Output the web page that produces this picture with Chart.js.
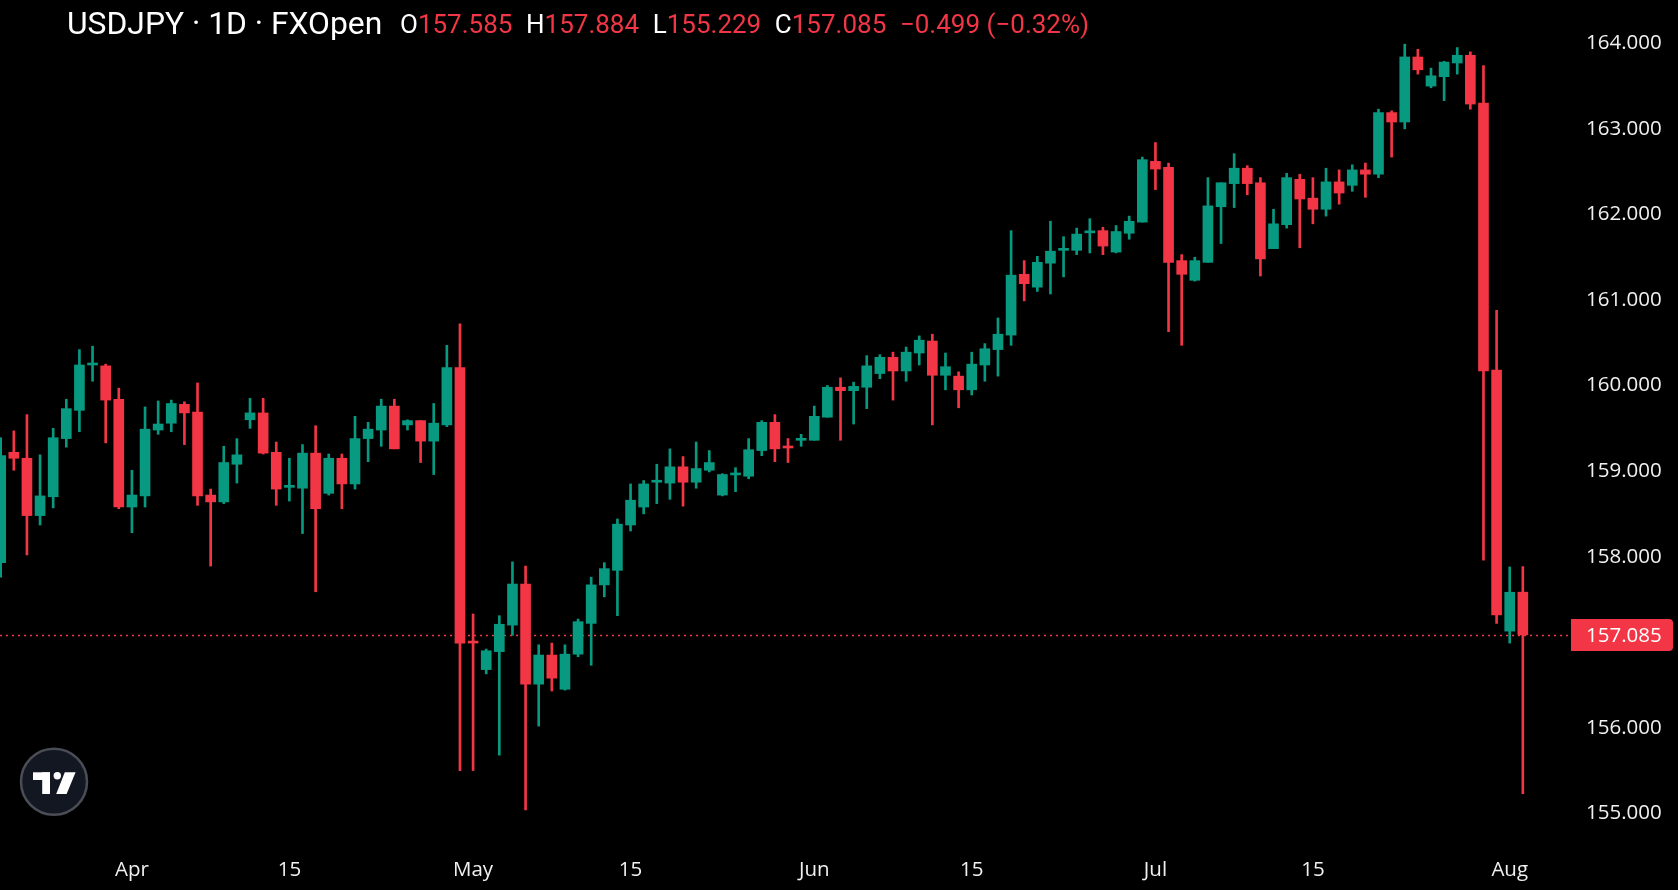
<!DOCTYPE html>
<html>
<head>
<meta charset="utf-8">
<script src="https://cdn.jsdelivr.net/npm/chart.js@4.4.1/dist/chart.umd.min.js"></script>
<style>
html,body{margin:0;padding:0;background:#000;overflow:hidden;}
#wrap{width:1678px;height:890px;position:relative;}
</style>
</head>
<body>
<div id="wrap"><canvas id="c" width="1678" height="890"></canvas></div>
<script>
// ---- data (daily candles, left to right) ----
const opens  = [157.93,159.22,159.15,158.48,158.70,159.38,159.71,160.24,160.23,159.84,
                158.58,158.71,159.48,159.56,159.78,159.69,158.72,158.64,159.08,159.60,
                159.68,159.22,158.81,158.80,159.21,158.74,159.15,158.85,159.38,159.48,
                159.76,159.54,159.59,159.35,159.54,160.21,157.00,156.68,156.89,157.20,
                157.68,156.51,156.85,156.45,156.86,157.22,157.67,157.84,158.37,158.58,
                158.87,158.86,159.05,158.87,159.01,158.72,158.955,158.94,159.24,159.57,
                159.28,159.36,159.36,159.63,159.98,159.94,159.98,160.14,160.33,160.17,
                160.38,160.52,160.12,160.11,159.95,160.24,160.42,160.59,161.30,161.15,
                161.43,161.58,161.58,161.785,161.81,161.56,161.78,161.91,162.62,162.55,
                161.46,161.23,161.44,162.09,162.36,162.54,162.37,161.60,161.88,162.41,
                162.19,162.06,162.38,162.34,162.52,162.47,163.19,163.08,163.84,163.50,
                163.61,163.77,163.86,163.30,160.18,157.13,157.585];
const highs  = [159.39,159.47,159.66,159.19,159.50,159.84,160.42,160.46,160.25,159.97,
                159.01,159.75,159.82,159.83,159.81,160.03,158.79,159.29,159.38,159.85,
                159.85,159.34,159.15,159.31,159.53,159.20,159.20,159.64,159.57,159.84,
                159.84,159.60,159.59,159.79,160.47,160.72,157.33,156.92,157.31,157.94,
                157.89,156.97,156.99,156.97,157.27,157.76,157.93,158.44,158.85,158.89,
                159.08,159.26,159.17,159.34,159.24,158.97,159.04,159.38,159.59,159.66,
                159.38,159.43,159.76,160.00,160.09,160.04,160.35,160.36,160.39,160.45,
                160.58,160.60,160.38,160.16,160.39,160.49,160.79,161.81,161.46,161.51,
                161.92,161.74,161.84,161.95,161.85,161.87,161.98,162.67,162.84,162.60,
                161.53,161.50,162.43,162.37,162.71,162.57,162.43,162.06,162.48,162.47,
                162.43,162.54,162.52,162.58,162.60,163.23,163.21,163.99,163.93,163.71,
                163.79,163.95,163.90,163.74,160.88,157.88,157.884];
const lows   = [157.76,159.01,158.02,158.37,158.57,159.28,159.46,160.05,159.33,158.56,
                158.28,158.58,159.43,159.46,159.31,158.60,157.89,158.62,158.86,159.50,
                159.20,158.60,158.65,158.27,157.59,158.72,158.56,158.79,159.11,159.29,
                159.26,159.48,159.10,158.96,159.52,155.50,155.50,156.63,155.68,157.08,
                155.04,156.02,156.43,156.44,156.83,156.73,157.53,157.31,158.30,158.50,
                158.62,158.67,158.59,158.80,158.99,158.71,158.76,158.91,159.18,159.11,
                159.10,159.29,159.36,159.63,159.36,159.55,159.73,160.08,159.83,160.05,
                160.24,159.54,159.95,159.74,159.89,160.05,160.11,160.47,160.99,161.10,
                161.07,161.27,161.53,161.55,161.53,161.55,161.71,161.91,162.29,160.63,
                160.47,161.22,161.44,161.66,162.08,162.23,161.28,161.60,161.84,161.61,
                161.89,161.98,162.12,162.27,162.20,162.43,162.67,163.00,163.64,163.48,
                163.33,163.64,163.23,157.96,157.22,156.99,155.229];
const closes = [159.18,159.15,158.48,158.71,159.39,159.73,160.24,160.25,159.83,158.58,
                158.72,159.49,159.55,159.79,159.68,158.71,158.64,159.10,159.19,159.68,
                159.21,158.79,158.82,159.21,158.56,159.15,158.85,159.38,159.49,159.76,
                159.26,159.59,159.35,159.56,160.21,156.99,156.99,156.90,157.21,157.68,
                156.51,156.85,156.58,156.86,157.24,157.67,157.86,158.38,158.66,158.85,
                158.88,159.05,158.87,159.03,159.10,158.96,158.96,159.25,159.57,159.26,
                159.27,159.37,159.64,159.98,159.94,159.99,160.23,160.33,160.17,160.39,
                160.53,160.12,160.22,159.95,160.25,160.43,160.60,161.29,161.19,161.44,
                161.57,161.59,161.77,161.79,161.63,161.80,161.92,162.64,162.53,161.44,
                161.30,161.46,162.10,162.37,162.54,162.36,161.48,161.89,162.43,162.18,
                162.06,162.38,162.25,162.52,162.47,163.19,163.08,163.84,163.69,163.62,
                163.78,163.86,163.29,160.17,157.32,157.584,157.085];

// time-axis labels and the candle index where each sits
const tickIdx  = [10, 22, 36, 48, 62, 74, 88, 100, 115];
const tickText = ['Apr', '15', 'May', '15', 'Jun', '15', 'Jul', '15', 'Aug'];
// price-axis ticks
const priceTicks = [155, 156, 157, 158, 159, 160, 161, 162, 163, 164];

const symbolTitle = 'USDJPY · 1D · FXOpen';

// ---- styling ----
const UP = '#089981', DOWN = '#F23645';
const AXIS_FONT = 'Open Sans';
const TEXT = '#f0f0f0';

const n = closes.length;
const last = n - 1;
const colors = closes.map((c, i) => (c >= opens[i] ? UP : DOWN));
const wickData = closes.map((c, i) => ({ x: i, y: [lows[i], highs[i]] }));
const bodyData = closes.map((c, i) => ({ x: i, y: [opens[i], closes[i]] }));

function fmt(v) { return v.toFixed(3); }
function signed(v, d) { return (v < 0 ? '\u2212' : '+') + Math.abs(v).toFixed(d); }
function noPad(s) { s.paddingTop = 0; s.paddingBottom = 0; s.paddingLeft = 0; s.paddingRight = 0; }

const overlay = {
  id: 'overlay',
  beforeDraw(chart) {
    const ctx = chart.ctx;
    ctx.save();
    ctx.fillStyle = '#000';
    ctx.fillRect(0, 0, chart.width, chart.height);
    ctx.restore();
  },
  beforeDatasetsDraw(chart) {
    const ctx = chart.ctx, a = chart.chartArea, y = chart.scales.y.getPixelForValue(closes[last]);
    ctx.save();
    ctx.strokeStyle = DOWN;
    ctx.lineWidth = 1.6;
    ctx.setLineDash([2, 4]);
    ctx.beginPath();
    ctx.moveTo(a.left, Math.round(y) + 0.5);
    ctx.lineTo(a.right, Math.round(y) + 0.5);
    ctx.stroke();
    ctx.restore();
  },
  afterDraw(chart) {
    const ctx = chart.ctx, a = chart.chartArea, ys = chart.scales.y;
    ctx.save();
    // last price box on the price axis
    const py = ys.getPixelForValue(closes[last]);
    const lastColor = colors[last];
    ctx.fillStyle = lastColor;
    ctx.beginPath();
    ctx.roundRect(a.right, py - 16, 102, 32, [0, 4, 4, 0]);
    ctx.fill();
    ctx.fillStyle = '#ffffff';
    ctx.font = '20.5px "' + AXIS_FONT + '"';
    ctx.textBaseline = 'middle';
    ctx.textAlign = 'left';
    ctx.fillText(fmt(closes[last]), a.right + 15, py + 1);

    // legend line
    ctx.textBaseline = 'alphabetic';
    ctx.fillStyle = '#ffffff';
    ctx.font = '31.8px Roboto';
    ctx.fillText(symbolTitle, 67, 34.3);

    ctx.font = '26px Roboto';
    const chg = closes[last] - closes[last - 1];
    const pct = chg / closes[last - 1] * 100;
    const parts = [
      ['O', fmt(opens[last])], ['H', fmt(highs[last])],
      ['L', fmt(lows[last])], ['C', fmt(closes[last])]
    ];
    let x = 400;
    const gap = 13.6;
    for (const [k, v] of parts) {
      ctx.fillStyle = '#ffffff';
      ctx.fillText(k, x, 32.7);
      x += ctx.measureText(k).width;
      ctx.fillStyle = lastColor;
      ctx.fillText(v, x, 32.7);
      x += ctx.measureText(v).width + gap;
    }
    ctx.fillStyle = lastColor;
    ctx.fillText(signed(chg, 3) + ' (' + signed(pct, 2) + '%)', x, 32.7);

    // logo badge
    const cx = 54, cy = 781.7, r = 33;
    ctx.beginPath();
    ctx.arc(cx, cy, r, 0, Math.PI * 2);
    ctx.fillStyle = '#131722';
    ctx.fill();
    ctx.lineWidth = 2.5;
    ctx.strokeStyle = '#4a4d56';
    ctx.stroke();
    ctx.fillStyle = '#ffffff';
    ctx.fillRect(33, 772.3, 17, 7.7);
    ctx.fillRect(42.2, 772.3, 7.8, 21.7);
    ctx.beginPath();
    ctx.arc(57.3, 775.8, 3.7, 0, Math.PI * 2);
    ctx.fill();
    ctx.beginPath();
    ctx.moveTo(64.8, 772.3);
    ctx.lineTo(75.6, 772.3);
    ctx.lineTo(66.6, 794);
    ctx.lineTo(56.2, 794);
    ctx.closePath();
    ctx.fill();
    ctx.restore();
  }
};

new Chart(document.getElementById('c'), {
  type: 'bar',
  data: {
    datasets: [
      { label: 'body', data: bodyData, backgroundColor: colors, barThickness: 10,
        minBarLength: 2, grouped: false, order: 0, borderWidth: 0 },
      { label: 'wick', data: wickData, backgroundColor: colors, barThickness: 2,
        grouped: false, order: 1, borderWidth: 0 }
    ]
  },
  options: {
    responsive: false,
    animation: false,
    events: [],
    layout: { padding: 0 },
    plugins: { legend: { display: false }, tooltip: { enabled: false }, title: { display: false } },
    scales: {
      x: {
        type: 'linear',
        offset: false,
        min: -0.053,
        max: 119.67,
        grid: { display: false, drawTicks: false },
        border: { display: false },
        afterFit(s) { s.height = 45; noPad(s); },
        afterBuildTicks(s) { s.ticks = tickIdx.map(v => ({ value: v })); },
        ticks: {
          autoSkip: false,
          maxRotation: 0,
          padding: 13,
          color: TEXT,
          font: { family: AXIS_FONT, size: 20.5 },
          callback: (v, i) => tickText[i]
        }
      },
      y: {
        type: 'linear',
        position: 'right',
        beginAtZero: false,
        min: 154.630,
        max: 164.506,
        grid: { display: false, drawTicks: false },
        border: { display: false },
        afterFit(s) { s.width = 107; noPad(s); },
        afterBuildTicks(s) { s.ticks = priceTicks.map(v => ({ value: v })); },
        ticks: {
          padding: 15,
          color: TEXT,
          font: { family: AXIS_FONT, size: 20.5 },
          callback: v => (Math.abs(v - closes[last]) < 0.3 ? '' : fmt(v))
        }
      }
    }
  },
  plugins: [overlay]
});
</script>
</body>
</html>
